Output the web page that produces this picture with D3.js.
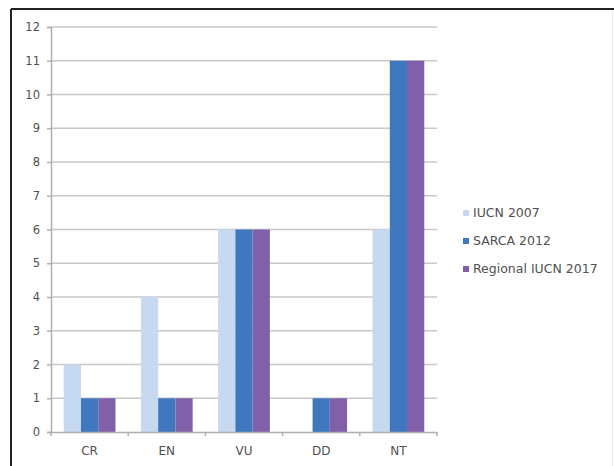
<!DOCTYPE html>
<html>
<head>
<meta charset="utf-8">
<script src="https://cdn.jsdelivr.net/npm/d3@7"></script>
<style>
  body { margin: 0; background: #fff; }
  svg { display: block; font-family: "DejaVu Sans", Verdana, sans-serif; }
</style>
</head>
<body>
<div id="chart"></div>
<script>
// data
var categories = ["CR", "EN", "VU", "DD", "NT"];
var seriesNames = ["IUCN 2007", "SARCA 2012", "Regional IUCN 2017"];
var iucn2007 = [2, 4, 6, 0, 6];
var sarca2012 = [1, 1, 6, 1, 11];
var regional2017 = [1, 1, 6, 1, 11];
var yTicks = [0, 1, 2, 3, 4, 5, 6, 7, 8, 9, 10, 11, 12];
var colors = ["#c6d9f1", "#3f78bf", "#8060a8"];

var width = 614, height = 466;
var plot = {left: 51, right: 437, top: 27, bottom: 432};

var svg = d3.select("#chart").append("svg")
    .attr("width", width)
    .attr("height", height);

// frame of the figure
svg.append("line").attr("x1", 11).attr("x2", 11).attr("y1", 9).attr("y2", height)
    .attr("stroke", "#222").attr("stroke-width", 2);
svg.append("line").attr("x1", 11).attr("x2", width).attr("y1", 9).attr("y2", 9)
    .attr("stroke", "#222").attr("stroke-width", 2);
svg.append("line").attr("x1", 612.5).attr("x2", 612.5).attr("y1", 10).attr("y2", height)
    .attr("stroke", "#ececec").attr("stroke-width", 1);

var x = d3.scaleBand()
    .domain(categories)
    .range([plot.left, plot.right])
    .paddingInner(0.33)
    .paddingOuter(0.165);

var xSeries = d3.scaleBand()
    .domain(seriesNames)
    .range([0, x.bandwidth()]);

var y = d3.scaleLinear()
    .domain([0, 12])
    .range([plot.bottom, plot.top]);

// gridlines
svg.append("g").selectAll("line").data(yTicks.filter(function (d) { return d > 0; }))
    .enter().append("line")
    .attr("x1", plot.left).attr("x2", plot.right)
    .attr("y1", function (d) { return y(d); })
    .attr("y2", function (d) { return y(d); })
    .attr("stroke", "#c8c8c8")
    .attr("stroke-width", 1.5);

// bars
var rows = categories.map(function (c, i) {
    return {cat: c, vals: [iucn2007[i], sarca2012[i], regional2017[i]]};
});

var groups = svg.append("g").selectAll("g").data(rows)
    .enter().append("g")
    .attr("transform", function (d) { return "translate(" + x(d.cat) + ",0)"; });

groups.selectAll("rect")
    .data(function (d) {
        return d.vals.map(function (v, j) { return {name: seriesNames[j], v: v, j: j}; });
    })
    .enter().append("rect")
    .attr("x", function (d) { return xSeries(d.name); })
    .attr("y", function (d) { return y(d.v); })
    .attr("width", xSeries.bandwidth())
    .attr("height", function (d) { return y(0) - y(d.v); })
    .attr("fill", function (d) { return colors[d.j]; });

// y axis
var yAxis = d3.axisLeft(y).tickValues(yTicks).tickSize(4).tickPadding(7);
var gy = svg.append("g")
    .attr("transform", "translate(" + plot.left + ",0)")
    .call(yAxis);
gy.select(".domain").attr("stroke", "#b0b0b0").attr("stroke-width", 1.5);
gy.selectAll(".tick line").attr("stroke", "#b0b0b0").attr("stroke-width", 1.5);
gy.selectAll(".tick text").attr("fill", "#505050")
    .style("font-family", "'DejaVu Sans', sans-serif").style("font-size", "11.5px");

// x axis
var xAxis = d3.axisBottom(x).tickSize(0).tickPadding(14);
var gx = svg.append("g")
    .attr("transform", "translate(0," + plot.bottom + ")")
    .call(xAxis);
gx.select(".domain").attr("stroke", "#b0b0b0").attr("stroke-width", 1.5);
gx.selectAll(".tick text").attr("fill", "#505050")
    .style("font-family", "'DejaVu Sans', sans-serif").style("font-size", "12px");

// small tick marks between categories
var step = x.step();
svg.append("g").selectAll("line").data(d3.range(categories.length + 1))
    .enter().append("line")
    .attr("x1", function (i) { return plot.left + i * step; })
    .attr("x2", function (i) { return plot.left + i * step; })
    .attr("y1", plot.bottom)
    .attr("y2", plot.bottom + 4)
    .attr("stroke", "#b0b0b0")
    .attr("stroke-width", 1.5);

// legend
var legend = svg.append("g").selectAll("g").data(seriesNames)
    .enter().append("g")
    .attr("transform", function (d, i) { return "translate(463," + (213 + i * 28) + ")"; });

legend.append("rect")
    .attr("x", 0).attr("y", -3)
    .attr("width", 6).attr("height", 6)
    .attr("fill", function (d, i) { return colors[i]; });

legend.append("text")
    .attr("x", 10).attr("y", 0)
    .attr("dy", "0.35em")
    .attr("fill", "#505050")
    .style("font-size", "12.5px")
    .text(function (d) { return d; });
</script>
</body>
</html>
